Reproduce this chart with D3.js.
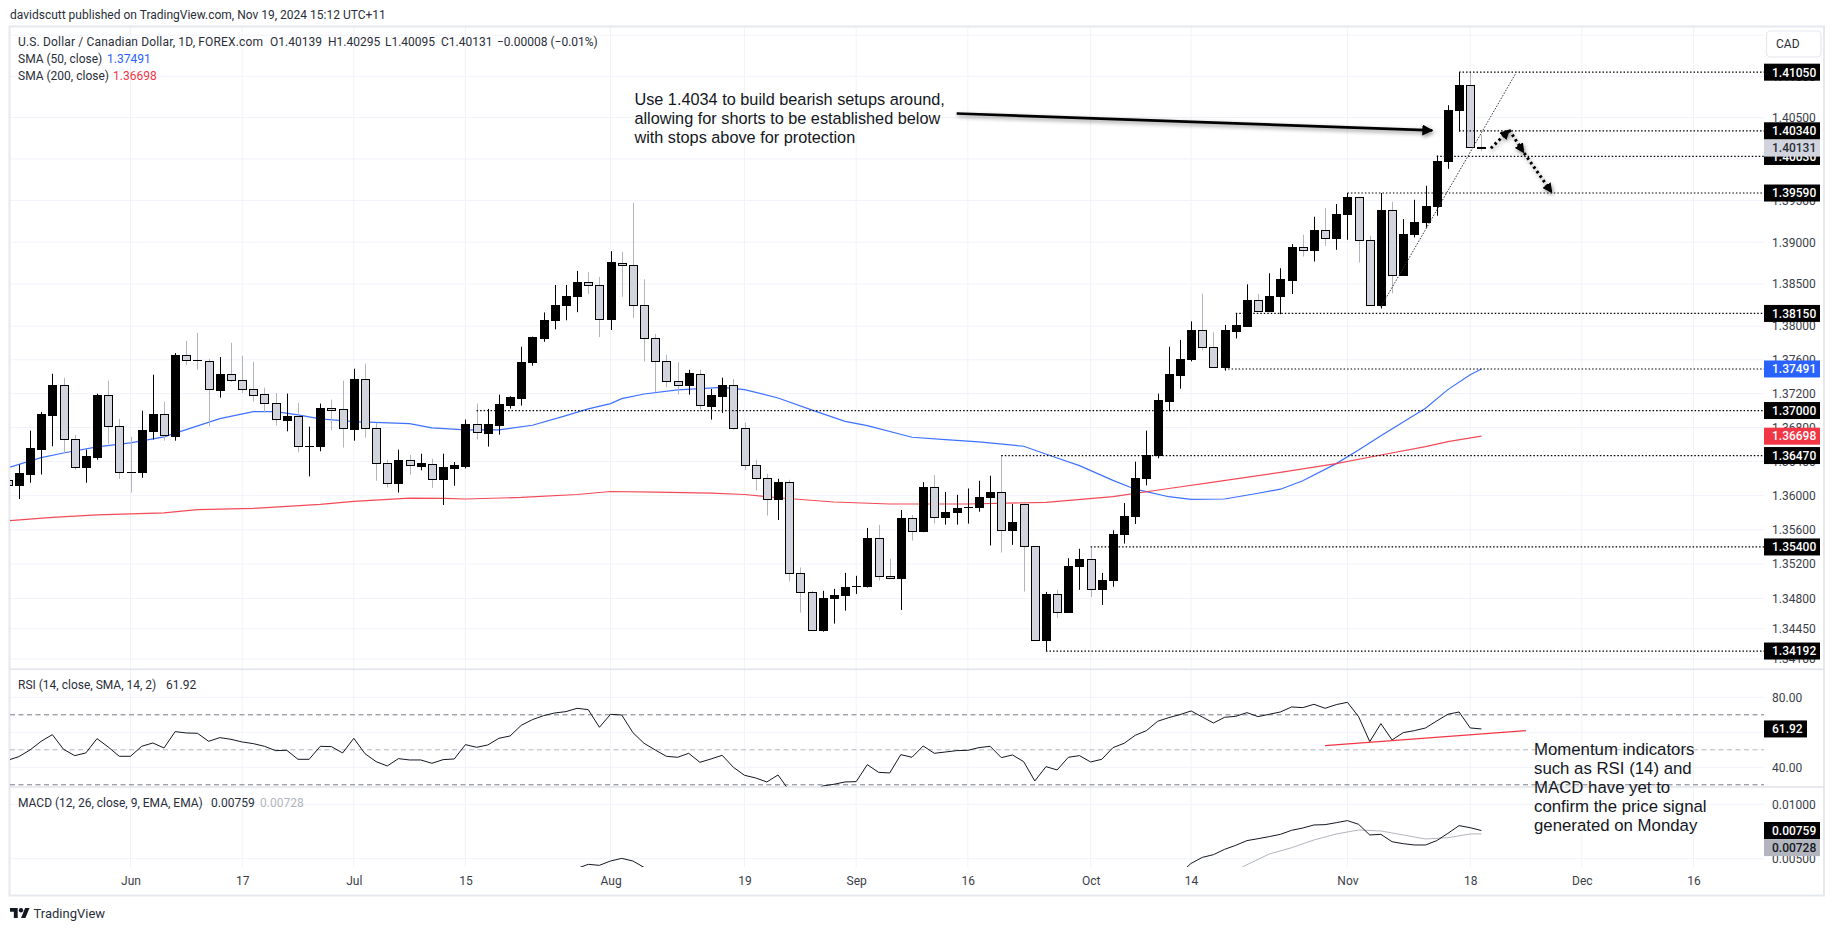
<!DOCTYPE html>
<html>
<head>
<meta charset="utf-8">
<script src="https://cdn.jsdelivr.net/npm/d3@7"></script>
<style>
  html, body { margin: 0; padding: 0; background: #fff; }
  svg { display: block; }
  text { font-family: Roboto, sans-serif; fill: #2a2e39; }
  .note { font-family: "Liberation Sans", Arial, sans-serif; fill: #131722; }
</style>
</head>
<body>
<svg id="chart"></svg>
<script>
// daily USD/CAD bars. first entry is bar -11 (bar 0 = 3 Jun)
const firstBar = -11;

const opens = [
  1.36178, 1.36119, 1.36248, 1.36543, 1.36944, 1.37290, 1.36653, 1.36331, 1.36449, 1.37172, 1.36806,
  1.36276, 1.36272, 1.36755, 1.36948, 1.36696, 1.37655, 1.37596, 1.37585, 1.37239, 1.37431,
  1.37349, 1.37243, 1.37184, 1.37078, 1.36885, 1.36924, 1.36579, 1.36579, 1.37019, 1.37007,
  1.36779, 1.37361, 1.36783, 1.36382, 1.36142, 1.36417, 1.36343, 1.36370, 1.36189, 1.36319,
  1.36343, 1.36830, 1.36732, 1.36826, 1.37062, 1.37144, 1.37569, 1.37852, 1.38061, 1.38241,
  1.38349, 1.38521, 1.38485, 1.38073, 1.38749, 1.38725, 1.38245, 1.37856, 1.37585, 1.37337,
  1.37298, 1.37431, 1.37050, 1.37168, 1.37290, 1.36783, 1.36350, 1.36205, 1.35952, 1.36158,
  1.35095, 1.34873, 1.34427, 1.34804, 1.34835, 1.34939, 1.34939, 1.35502, 1.35060, 1.35036,
  1.35735, 1.35580, 1.36099, 1.35743, 1.35801, 1.35859, 1.35859, 1.35975, 1.36036, 1.35591,
  1.35898, 1.35405, 1.34311, 1.34850, 1.34637, 1.35172, 1.35258, 1.34904, 1.35009, 1.35545,
  1.35754, 1.36201, 1.36472, 1.37109, 1.37416, 1.37604, 1.37950, 1.37746, 1.37510, 1.37937,
  1.37997, 1.38305, 1.38169, 1.38349, 1.38541, 1.38933, 1.38901, 1.39145, 1.39045, 1.39333,
  1.39541, 1.39025, 1.38241, 1.39385, 1.38601, 1.39089, 1.39237, 1.39429, 1.39969, 1.40581,
  1.40885, 1.40139
];
const highs = [
  1.36225, 1.36362, 1.36763, 1.36983, 1.37435, 1.37388, 1.36712, 1.36539, 1.37199, 1.37353, 1.36901,
  1.36692, 1.36999, 1.37423, 1.37105, 1.37679, 1.37824, 1.37919, 1.37612, 1.37632, 1.37801,
  1.37647, 1.37573, 1.37270, 1.37207, 1.37199, 1.37093, 1.36810, 1.37082, 1.37129, 1.37353,
  1.37494, 1.37553, 1.36854, 1.36421, 1.36539, 1.36476, 1.36492, 1.36433, 1.36492, 1.36394,
  1.36893, 1.37082, 1.37019, 1.37188, 1.37168, 1.37754, 1.37875, 1.38162, 1.38489, 1.38489,
  1.38657, 1.38645, 1.38585, 1.38893, 1.38885, 1.39473, 1.38557, 1.37907, 1.37659, 1.37569,
  1.37482, 1.37482, 1.37254, 1.37388, 1.37372, 1.36858, 1.36421, 1.36256, 1.36197, 1.36186,
  1.35161, 1.34889, 1.34889, 1.34912, 1.35098, 1.35064, 1.35622, 1.35657, 1.35261, 1.35832,
  1.35774, 1.36158, 1.36240, 1.36044, 1.36009, 1.36083, 1.36174, 1.36233, 1.36476, 1.35902,
  1.35929, 1.35405, 1.34877, 1.34901, 1.35269, 1.35378, 1.35400, 1.35098, 1.35595, 1.35913,
  1.36398, 1.36763, 1.37199, 1.37754, 1.37836, 1.38056, 1.38386, 1.37926, 1.38013, 1.38149,
  1.38497, 1.38381, 1.38629, 1.38689, 1.38977, 1.39089, 1.39305, 1.39409, 1.39457, 1.39590,
  1.39541, 1.39077, 1.39590, 1.39485, 1.39277, 1.39509, 1.39677, 1.40041, 1.40649, 1.41050,
  1.41050, 1.40295
];
const lows = [
  1.36068, 1.35960, 1.36150, 1.36248, 1.36579, 1.36500, 1.36303, 1.36150, 1.36421, 1.36606, 1.36197,
  1.36036, 1.36209, 1.36657, 1.36645, 1.36645, 1.37541, 1.37482, 1.36814, 1.37152, 1.37337,
  1.37207, 1.37105, 1.36983, 1.36822, 1.36755, 1.36508, 1.36225, 1.36520, 1.36767, 1.36563,
  1.36645, 1.36681, 1.36174, 1.36095, 1.36036, 1.36244, 1.36296, 1.36091, 1.35890, 1.36115,
  1.36319, 1.36657, 1.36575, 1.36716, 1.37023, 1.37058, 1.37530, 1.37813, 1.37961, 1.38069,
  1.38165, 1.38381, 1.37869, 1.37953, 1.38349, 1.38097, 1.37581, 1.37215, 1.37274, 1.37188,
  1.37188, 1.37011, 1.36893, 1.36972, 1.36775, 1.36303, 1.36060, 1.35766, 1.35715, 1.34998,
  1.34637, 1.34431, 1.34416, 1.34509, 1.34660, 1.34854, 1.34928, 1.35009, 1.35032, 1.34668,
  1.35475, 1.35572, 1.35673, 1.35661, 1.35661, 1.35673, 1.35812, 1.35417, 1.35335, 1.35424,
  1.34881, 1.34315, 1.34192, 1.34575, 1.34637, 1.34901, 1.34819, 1.34726, 1.34936, 1.35440,
  1.35669, 1.36119, 1.36437, 1.36991, 1.37258, 1.37581, 1.37710, 1.37502, 1.37471, 1.37853,
  1.37989, 1.38169, 1.38165, 1.38141, 1.38381, 1.38829, 1.38769, 1.38957, 1.38909, 1.39029,
  1.38757, 1.38245, 1.38209, 1.38389, 1.38601, 1.39057, 1.39173, 1.39317, 1.39881, 1.40329,
  1.40139, 1.40095
];
const closes = [
  1.36123, 1.36256, 1.36547, 1.36948, 1.37294, 1.36653, 1.36335, 1.36453, 1.37176, 1.36806, 1.36276,
  1.36272, 1.36759, 1.36948, 1.36700, 1.37655, 1.37596, 1.37592, 1.37243, 1.37431, 1.37349,
  1.37243, 1.37180, 1.37078, 1.36889, 1.36924, 1.36582, 1.36582, 1.37019, 1.37003, 1.36783,
  1.37365, 1.36783, 1.36382, 1.36146, 1.36417, 1.36350, 1.36375, 1.36193, 1.36327, 1.36351,
  1.36830, 1.36736, 1.36830, 1.37066, 1.37152, 1.37573, 1.37860, 1.38068, 1.38249, 1.38357,
  1.38521, 1.38485, 1.38077, 1.38753, 1.38725, 1.38245, 1.37849, 1.37585, 1.37337, 1.37298,
  1.37435, 1.37054, 1.37176, 1.37294, 1.36783, 1.36350, 1.36205, 1.35956, 1.36158, 1.35095,
  1.34873, 1.34431, 1.34804, 1.34839, 1.34932, 1.34943, 1.35502, 1.35060, 1.35036, 1.35735,
  1.35583, 1.36099, 1.35746, 1.35805, 1.35851, 1.35863, 1.35979, 1.36040, 1.35595, 1.35688,
  1.35409, 1.34315, 1.34850, 1.34641, 1.35176, 1.35258, 1.34908, 1.35013, 1.35549, 1.35758,
  1.36205, 1.36476, 1.37113, 1.37420, 1.37608, 1.37950, 1.37750, 1.37514, 1.37950, 1.38009,
  1.38309, 1.38173, 1.38357, 1.38549, 1.38933, 1.38905, 1.39145, 1.39049, 1.39337, 1.39541,
  1.39025, 1.38245, 1.39385, 1.38605, 1.39097, 1.39241, 1.39433, 1.39973, 1.40585, 1.40885,
  1.40139, 1.40131
];

const sma50Bars = [-11, -8, -6, -3, 0, 3, 8, 11, 13, 15, 17, 20, 25, 27, 30, 33, 36, 39, 41, 43, 44, 46, 49, 53, 55, 58, 61, 64, 66, 70, 73, 76, 80, 83, 85, 88, 90, 93, 95, 98, 101, 103, 105, 108, 110, 112, 114, 116, 118, 120, 121];
const sma50 = [1.36327, 1.36445, 1.36500, 1.36571, 1.36618, 1.36689, 1.36905, 1.36987, 1.36987, 1.36948, 1.36901, 1.36869, 1.36846, 1.36795, 1.36771, 1.36771, 1.36826, 1.36940, 1.37019, 1.37082, 1.37140, 1.37195, 1.37243, 1.37274, 1.37247, 1.37148, 1.37007, 1.36873, 1.36822, 1.36685, 1.36657, 1.36630, 1.36579, 1.36441, 1.36351, 1.36178, 1.36075, 1.35987, 1.35956, 1.35960, 1.36028, 1.36075, 1.36174, 1.36375, 1.36535, 1.36704, 1.36865, 1.37027, 1.37247, 1.37423, 1.37491];
const sma200Bars = [-11, -7, -3, 3, 6, 11, 17, 20, 25, 28, 30, 35, 40, 43, 47, 52, 55, 58, 63, 68, 75, 82, 88, 93, 97, 103, 108, 112, 116, 118, 121];
const sma200 = [1.35704, 1.35746, 1.35774, 1.35797, 1.35836, 1.35851, 1.35898, 1.35933, 1.35971, 1.35968, 1.35960, 1.35979, 1.36013, 1.36048, 1.36040, 1.36028, 1.36013, 1.35975, 1.35925, 1.35902, 1.35902, 1.35921, 1.35987, 1.36083, 1.36158, 1.36272, 1.36375, 1.36476, 1.36575, 1.36633, 1.36698];

const rsi = [
  44.0, 46.10, 49.90, 54.86, 58.67, 50.29, 46.67, 48.19, 56.38, 51.62, 46.29,
  46.29, 52.00, 53.90, 51.05, 60.38, 59.62, 59.43, 54.86, 56.95, 56.00,
  54.48, 53.52, 52.00, 49.52, 49.71, 44.57, 44.57, 52.00, 51.81, 48.19,
  56.57, 47.81, 43.24, 40.76, 44.95, 44.19, 44.19, 42.29, 44.38, 44.76,
  52.95, 51.43, 52.76, 56.57, 57.90, 64.00, 67.24, 69.52, 71.05, 71.81,
  73.71, 72.95, 62.86, 70.29, 69.90, 59.81, 53.71, 49.90, 46.29, 45.71,
  48.00, 42.86, 44.76, 46.86, 40.00, 35.43, 33.90, 31.62, 35.62, 26.67,
  23.24, 25.14, 29.33, 30.29, 31.62, 31.81, 41.52, 37.14, 36.76, 47.24,
  45.71, 52.19, 48.00, 48.76, 49.52, 49.71, 51.24, 52.00, 45.52, 47.05,
  43.24, 32.19, 40.38, 38.48, 45.71, 46.67, 43.05, 44.57, 51.24, 53.71,
  58.29, 60.95, 66.29, 68.38, 70.10, 72.19, 68.76, 65.33, 68.57, 69.14,
  71.24, 68.95, 70.29, 71.62, 74.48, 74.10, 76.00, 73.71, 75.81, 77.14,
  68.95, 54.67, 64.95, 55.62, 59.81, 60.95, 62.48, 66.48, 70.29, 71.62,
  62.48, 61.92
];

// macd is off the bottom of its pane between these two stretches
const macdBarsAug = [39, 40, 41, 42, 43, 44, 45, 46, 47];
const macdAug = [0.00365, 0.00411, 0.00448, 0.00439, 0.00479, 0.00503, 0.00479, 0.00420, 0.00365];
const macdBarsNov = [94, 95, 96, 97, 98, 99, 100, 101, 102, 103, 104, 105, 106, 107, 108, 109, 110, 111, 112, 113, 114, 115, 116, 117, 118, 119, 120, 121];
const macdNov = [0.00365, 0.00457, 0.00512, 0.00537, 0.00586, 0.00623, 0.00666, 0.00684, 0.00703, 0.00724, 0.00761, 0.00782, 0.00810, 0.00813, 0.00831, 0.00850, 0.00816, 0.00718, 0.00724, 0.00656, 0.00638, 0.00626, 0.00626, 0.00666, 0.00733, 0.00804, 0.00785, 0.00759];
const signalBars = [99, 100, 102, 104, 106, 108, 110, 112, 114, 116, 118, 120, 121];
const signal = [0.00390, 0.00445, 0.00543, 0.00601, 0.00672, 0.00727, 0.00764, 0.00755, 0.00718, 0.00681, 0.00693, 0.00727, 0.00728];

const timeTickBars = [0, 10, 20, 30, 43, 55, 65, 75, 86, 95, 109, 120, 130, 140];
const timeTickLabels = ["Jun", "17", "Jul", "15", "Aug", "19", "Sep", "16", "Oct", "14", "Nov", "18", "Dec", "16"];
const priceTicks = [1.415, 1.41, 1.405, 1.40, 1.395, 1.39, 1.385, 1.38, 1.376, 1.372, 1.368, 1.364, 1.36, 1.356, 1.352, 1.348, 1.3445, 1.341];
const rsiTicks = [80, 60, 40];
const rsiTickLabelled = [80, 40];
const rsiBands = [70, 50, 30];
const macdTicks = [0.01, 0.005];

// hand drawn levels on the chart: price and the bar they start from
const levelPrices = [1.4105, 1.4034, 1.4003, 1.3959, 1.3815, 1.37491, 1.37, 1.3647, 1.354, 1.34192];
const levelStarts = [119, 119, 117, 109, 99, 98, 31, 78, 86, 82];

const trendBars = [112, 124.1];
const trendPrices = [1.38229, 1.41041];
const arrowBars = [74, 116.6];
const arrowPrices = [1.40549, 1.40345];
const moveUpBars = [121.85, 123.5];
const moveUpPrices = [1.40129, 1.40349];
const moveDownBars = [123.5, 124.8, 127.3];
const moveDownPrices = [1.40349, 1.40077, 1.39597];
const rsiTrendBars = [107, 125];
const rsiTrendValues = [52.38, 60.95];

const noteBearish = ["Use 1.4034 to build bearish setups around,", "allowing for shorts to be established below", "with stops above for protection"];
const noteMomentum = ["Momentum indicators", "such as RSI (14) and", "MACD have yet to", "confirm the price signal", "generated on Monday"];

const width = 1835;
const height = 931;
const plotLeft = 10;
const plotRight = 1764;

const svg = d3.select("#chart").attr("width", width).attr("height", height);
const defs = svg.append("defs");

const clip = (id, y0, y1) => defs.append("clipPath").attr("id", id)
  .append("rect").attr("x", plotLeft).attr("y", y0).attr("width", plotRight - plotLeft).attr("height", y1 - y0);
clip("clipMain", 27, 669);
clip("clipRsi", 670, 786.5);
clip("clipMacd", 788, 867);

const arrowHead = (id, size) => defs.append("marker").attr("id", id)
  .attr("viewBox", "0 0 10 10").attr("refX", 9).attr("refY", 5)
  .attr("markerUnits", "userSpaceOnUse").attr("markerWidth", size).attr("markerHeight", size)
  .attr("orient", "auto")
  .append("path").attr("d", "M0,0L10,5L0,10Z").attr("fill", "#000");
arrowHead("headSolid", 11);
arrowHead("headDotted", 10);

const x = d3.scaleLinear().domain([0, 140]).range([130.5, 1693.5]);
const y = d3.scaleLog().domain([1.341, 1.41]).range([659, 76.3]);
const yRsi = d3.scaleLinear().domain([40, 80]).range([767.3, 697.3]);
const yMacd = d3.scaleLinear().domain([0.005, 0.01]).range([858.7, 804.3]);

// grid
const grid = svg.append("g").attr("stroke", "#f0f3fa").attr("stroke-width", 1);
grid.selectAll("line.v").data(timeTickBars).enter().append("line")
  .attr("x1", d => x(d)).attr("x2", d => x(d)).attr("y1", 27).attr("y2", 867);
const hGrid = (vals, scale) => grid.append("g").selectAll("line").data(vals).enter().append("line")
  .attr("x1", plotLeft).attr("x2", plotRight).attr("y1", d => scale(d)).attr("y2", d => scale(d));
hGrid(priceTicks, y);
hGrid(rsiTicks, yRsi);
hGrid(macdTicks, yMacd);

// axes
const styleAxis = g => {
  g.select(".domain").remove();
  g.selectAll("text").attr("font-size", 12).attr("font-family", "Roboto, sans-serif").style("fill", "#3a3e49");
};
svg.append("g").attr("transform", "translate(1772,0)")
  .call(d3.axisRight(y).tickValues(priceTicks).tickFormat(d3.format(".5f")).tickSize(0).tickPadding(0))
  .call(styleAxis);
svg.append("g").attr("transform", "translate(1772,0)")
  .call(d3.axisRight(yRsi).tickValues(rsiTickLabelled).tickFormat(d3.format(".2f")).tickSize(0).tickPadding(0))
  .call(styleAxis);
svg.append("g").attr("transform", "translate(1772,0)")
  .call(d3.axisRight(yMacd).tickValues(macdTicks).tickFormat(d3.format(".5f")).tickSize(0).tickPadding(0))
  .call(styleAxis);
svg.append("g").attr("transform", "translate(0,867)")
  .call(d3.axisBottom(x).tickValues(timeTickBars).tickFormat((d, i) => timeTickLabels[i]).tickSize(0).tickPadding(9))
  .call(styleAxis);

// frame and pane separators
svg.append("rect").attr("x", 9.5).attr("y", 26.5).attr("width", 1814.5).attr("height", 869)
  .attr("fill", "none").attr("stroke", "#e6e8ef").attr("stroke-width", 2);
svg.selectAll("line.sep").data([669.3, 787]).enter().append("line")
  .attr("x1", 9.5).attr("x2", 1824).attr("y1", d => d).attr("y2", d => d)
  .attr("stroke", "#e0e3eb").attr("stroke-width", 1.5);

// sma lines under the candles
const main = svg.append("g").attr("clip-path", "url(#clipMain)");
const seriesLine = (bars, scale) => d3.line().x((d, i) => x(bars[i])).y(d => scale(d));
main.append("path").datum(sma50).attr("d", seriesLine(sma50Bars, y))
  .attr("fill", "none").attr("stroke", "#2962ff").attr("stroke-width", 1.2).attr("opacity", 0.9);
main.append("path").datum(sma200).attr("d", seriesLine(sma200Bars, y))
  .attr("fill", "none").attr("stroke", "#f23645").attr("stroke-width", 1.2).attr("opacity", 0.9);

// candles
const barIndex = d3.range(opens.length);
const isUp = i => closes[i] >= opens[i];
const barX = i => Math.round(x(firstBar + i));
main.append("g").selectAll("line").data(barIndex).enter().append("line")
  .attr("x1", i => barX(i) + 0.5).attr("x2", i => barX(i) + 0.5)
  .attr("y1", i => y(highs[i])).attr("y2", i => y(lows[i]))
  .attr("stroke", i => isUp(i) ? "#000" : "#b2b5be").attr("stroke-width", 1);
main.append("g").selectAll("rect").data(barIndex).enter().append("rect")
  .attr("x", i => barX(i) - 3.5).attr("width", 8)
  .attr("y", i => Math.min(y(opens[i]), y(closes[i])))
  .attr("height", i => Math.max(0.5, Math.abs(y(opens[i]) - y(closes[i]))))
  .attr("fill", i => isUp(i) ? "#000" : "#d1d4dc")
  .attr("stroke", "#000").attr("stroke-width", 1)
  .attr("shape-rendering", "crispEdges");

// dotted price levels
main.append("g").selectAll("line").data(levelPrices).enter().append("line")
  .attr("x1", (d, i) => x(levelStarts[i])).attr("x2", plotRight)
  .attr("y1", d => y(d)).attr("y2", d => y(d))
  .attr("stroke", "#000").attr("stroke-width", 1.2).attr("stroke-dasharray", "1.5 2");

// rising trendline
main.append("path").datum(trendPrices).attr("d", seriesLine(trendBars, y))
  .attr("fill", "none").attr("stroke", "#333").attr("stroke-width", 1).attr("stroke-dasharray", "1.5 1.5");

// arrows
const shadow = "drop-shadow(1px 2px 2px rgba(0,0,0,0.45))";
svg.append("path").datum(arrowPrices).attr("d", seriesLine(arrowBars, y))
  .attr("fill", "none").attr("stroke", "#000").attr("stroke-width", 2.6)
  .attr("marker-end", "url(#headSolid)").style("filter", shadow);
svg.append("path").datum(moveUpPrices).attr("d", seriesLine(moveUpBars, y))
  .attr("fill", "none").attr("stroke", "#000").attr("stroke-width", 3).attr("stroke-dasharray", "2.5 3")
  .attr("marker-end", "url(#headDotted)").style("filter", shadow);
svg.append("path").datum(moveDownPrices).attr("d", seriesLine(moveDownBars, y))
  .attr("fill", "none").attr("stroke", "#000").attr("stroke-width", 3).attr("stroke-dasharray", "2.5 3")
  .attr("marker-mid", "url(#headDotted)").attr("marker-end", "url(#headDotted)").style("filter", shadow);

// rsi pane
const rsiPane = svg.append("g").attr("clip-path", "url(#clipRsi)");
rsiPane.selectAll("line").data(rsiBands).enter().append("line")
  .attr("x1", plotLeft).attr("x2", plotRight).attr("y1", d => yRsi(d)).attr("y2", d => yRsi(d))
  .attr("stroke", d => d === 50 ? "#b2b5be" : "#787b86").attr("stroke-width", 1).attr("stroke-dasharray", "5 3.5");
const rsiBars = rsi.map((d, i) => firstBar + i);
rsiPane.append("path").datum(rsi).attr("d", seriesLine(rsiBars, yRsi))
  .attr("fill", "none").attr("stroke", "#131722").attr("stroke-width", 1);
rsiPane.append("path").datum(rsiTrendValues).attr("d", seriesLine(rsiTrendBars, yRsi))
  .attr("fill", "none").attr("stroke", "#f23645").attr("stroke-width", 1.2);

// macd pane
const macdPane = svg.append("g").attr("clip-path", "url(#clipMacd)");
macdPane.append("path").datum(signal).attr("d", seriesLine(signalBars, yMacd))
  .attr("fill", "none").attr("stroke", "#b2b5be").attr("stroke-width", 1);
macdPane.append("path").datum(macdAug).attr("d", seriesLine(macdBarsAug, yMacd))
  .attr("fill", "none").attr("stroke", "#131722").attr("stroke-width", 1);
macdPane.append("path").datum(macdNov).attr("d", seriesLine(macdBarsNov, yMacd))
  .attr("fill", "none").attr("stroke", "#131722").attr("stroke-width", 1);

// price tags on the axis, later ones on top
const tag = (cy, label, fill, color, w = 56) => {
  const g = svg.append("g");
  g.append("rect").attr("x", 1764).attr("y", cy - 8.5).attr("width", w).attr("height", 17).attr("fill", fill);
  g.append("text").attr("x", 1772).attr("y", cy).attr("dy", "0.36em")
    .attr("font-size", 12).attr("font-weight", 500).style("fill", color).text(label);
};
const fmt5 = d3.format(".5f");
[1.34192, 1.354, 1.3647, 1.37, 1.3815, 1.3959, 1.4003].forEach(d => tag(y(d), fmt5(d), "#000", "#fff"));
tag(y(1.36698), "1.36698", "#f23645", "#fff");
tag(y(1.37491), "1.37491", "#2962ff", "#fff");
tag(y(1.40131), "1.40131", "#d1d4dc", "#2a2e39");
tag(y(1.4034), "1.40340", "#000", "#fff");
tag(y(1.4105), "1.41050", "#000", "#fff");
tag(yRsi(61.92), "61.92", "#000", "#fff", 43);
tag(847.6, "0.00728", "#b2b5be", "#131722");
tag(830.5, "0.00759", "#000", "#fff");

// currency button
svg.append("rect").attr("x", 1766.5).attr("y", 31).attr("width", 54.5).attr("height", 26).attr("rx", 4)
  .attr("fill", "#fff").attr("stroke", "#e6e8ef").attr("stroke-width", 1.2);
svg.append("text").attr("x", 1776).attr("y", 44).attr("dy", "0.36em").attr("font-size", 12).text("CAD");

// legends
const legend = (lx, ly, label, color) => svg.append("text").attr("x", lx).attr("y", ly).attr("dy", "0.36em")
  .attr("font-size", 12).style("fill", color || "#2a2e39").text(label);
legend(10, 14.7, "davidscutt published on TradingView.com, Nov 19, 2024 15:12 UTC+11");
legend(18, 42, "U.S. Dollar / Canadian Dollar, 1D, FOREX.com").attr("letter-spacing", 0.16);
legend(270, 42, "O1.40139");
legend(328, 42, "H1.40295");
legend(385, 42, "L1.40095");
legend(441, 42, "C1.40131");
legend(497, 42, "\u22120.00008 (\u22120.01%)");
legend(18, 58.7, "SMA (50, close)");
legend(107, 58.7, "1.37491", "#2962ff");
legend(18, 76, "SMA (200, close)");
legend(113, 76, "1.36698", "#f23645");
legend(18, 685, "RSI (14, close, SMA, 14, 2)");
legend(166, 685, "61.92");
legend(18, 802.7, "MACD (12, 26, close, 9, EMA, EMA)");
legend(211, 802.7, "0.00759");
legend(260, 802.7, "0.00728", "#b2b5be");

// notes
svg.append("g").selectAll("text").data(noteBearish).enter().append("text").attr("class", "note")
  .attr("font-size", 16.3).attr("x", 634.4).attr("y", (d, i) => 105 + i * 19).text(d => d);
svg.append("g").selectAll("text").data(noteMomentum).enter().append("text").attr("class", "note")
  .attr("font-size", 16.8).attr("x", 1534).attr("y", (d, i) => 755 + i * 19).text(d => d);

// footer logo
const logo = svg.append("g").attr("transform", "translate(10,905.8) scale(0.55)").attr("fill", "#131722");
logo.append("path").attr("d", "M14 22H7V11H0V4h14v18zM28 22h-8l7.5-18h8L28 22z");
logo.append("circle").attr("cx", 20).attr("cy", 8).attr("r", 4);
svg.append("text").attr("x", 33.5).attr("y", 913).attr("dy", "0.36em").attr("font-size", 13).text("TradingView");
</script>
</body>
</html>
